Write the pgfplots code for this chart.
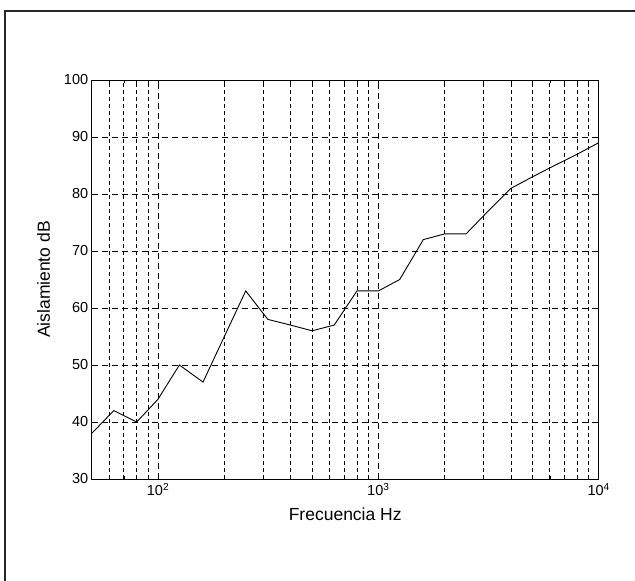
\documentclass[border=0pt]{standalone}
\usepackage{pgfplots}
\pgfplotsset{compat=1.18}
\usepackage{fontspec}
\setmainfont{Liberation Sans}

\pgfplotstableread{
f     dB
50    38
63    42
80    40
100   44
125   50
160   47
200   55
250   63
315   58
400   57
500   56
630   57
800   63
1000  63
1250  65
1600  72
2000  73
2500  73
3150  77
4000  81
5000  83
6300  85
8000  87
10000 89
}\aislamiento

\begin{document}
\begin{tikzpicture}[x=1pt,y=1pt]
\useasboundingbox (0,0) rectangle (635,581);
% marco exterior (solo arriba e izquierda)
\draw[line width=1.6pt,black!85] (5,0) -- (5,570) -- (635,570);
\begin{axis}[
  at={(91.7pt,102pt)}, anchor=south west,
  scale only axis,
  width=507pt, height=399pt,
  xmode=log, log basis x=10,
  xmin=50, xmax=10000,
  ymin=30, ymax=100,
  ytick={30,40,...,100},
  xtick={100,1000,10000},
  xticklabels={10\textsuperscript{2},10\textsuperscript{3},10\textsuperscript{4}},
  minor xtick={60,70,80,90,200,300,400,500,600,700,800,900,2000,3000,4000,5000,6000,7000,8000,9000},
  /pgf/number format/assume math mode=true,
  tick label style={font=\fontsize{14.5}{17}\selectfont},
  label style={font=\fontsize{17.5}{20}\selectfont},
  tick align=inside,
  major tick length=6pt, minor tick length=3pt,
  tick style={black, line width=0.6pt},
  grid=both,
  major grid style={black, line width=0.8pt, dash pattern=on 6pt off 4pt},
  minor grid style={black, line width=0.8pt, dash pattern=on 4pt off 3pt},
  axis line style={line width=0.9pt},
  xlabel={Frecuencia Hz},
  ylabel={Aislamiento dB},
  xlabel style={yshift=-5pt},
  ylabel style={yshift=7pt},
  xticklabel style={yshift=-1pt},
]
\addplot[black, line width=0.9pt, mark=none] table[x=f, y=dB] {\aislamiento};
\end{axis}
\end{tikzpicture}
\end{document}
